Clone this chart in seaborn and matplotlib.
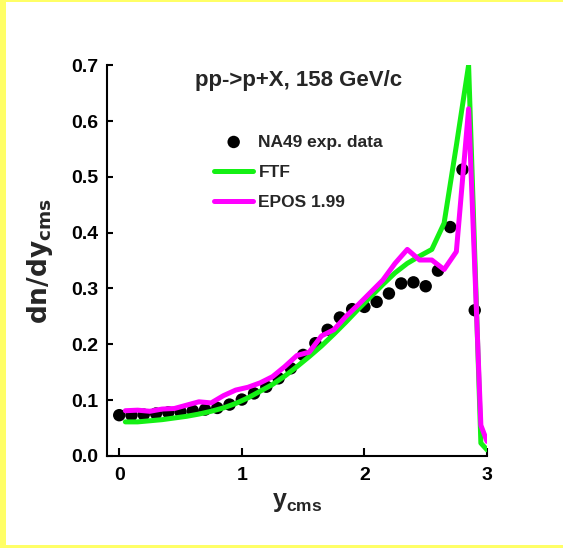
import numpy as np
import pandas as pd
import matplotlib
matplotlib.use("Agg")
import matplotlib.pyplot as plt
from matplotlib.patches import Rectangle
import seaborn as sns

# NA49 measured proton rapidity distribution
na49_y = [0.0, 0.1, 0.2, 0.3, 0.4, 0.5, 0.6, 0.7, 0.8, 0.9,
          1.0, 1.1, 1.2, 1.3, 1.4, 1.5, 1.6, 1.7, 1.8, 1.9,
          2.0, 2.1, 2.2, 2.3, 2.4, 2.5, 2.6, 2.7, 2.8, 2.9]
na49_dndy = [0.073, 0.073, 0.074, 0.076, 0.078, 0.079, 0.081, 0.083, 0.086, 0.092,
             0.101, 0.112, 0.124, 0.139, 0.157, 0.181, 0.202, 0.226, 0.248, 0.263,
             0.267, 0.276, 0.291, 0.309, 0.311, 0.304, 0.332, 0.410, 0.513, 0.261]

# model predictions (bin centres)
model_y = [0.05, 0.15, 0.25, 0.35, 0.45, 0.55, 0.65, 0.75, 0.85, 0.95,
           1.05, 1.15, 1.25, 1.35, 1.45, 1.55, 1.65, 1.75, 1.85, 1.95,
           2.05, 2.15, 2.25, 2.35, 2.45, 2.55, 2.65, 2.75, 2.85, 2.95, 3.00]
ftf_dndy = [0.061, 0.061, 0.063, 0.065, 0.068, 0.071, 0.075, 0.080, 0.086, 0.094,
            0.104, 0.116, 0.128, 0.143, 0.160, 0.178, 0.197, 0.218, 0.240, 0.263,
            0.285, 0.307, 0.328, 0.345, 0.358, 0.370, 0.417, 0.556, 0.700, 0.023, 0.011]
epos_dndy = [0.081, 0.082, 0.080, 0.084, 0.085, 0.091, 0.097, 0.095, 0.108, 0.118,
             0.123, 0.131, 0.142, 0.160, 0.180, 0.186, 0.215, 0.226, 0.250, 0.271,
             0.293, 0.315, 0.345, 0.370, 0.351, 0.351, 0.334, 0.366, 0.622, 0.055, 0.026]

x_ticks = [0, 1, 2, 3]
y_ticks = [0.0, 0.1, 0.2, 0.3, 0.4, 0.5, 0.6, 0.7]

sns.set_style("ticks")
plt.rcParams["font.family"] = ["Liberation Sans", "DejaVu Sans"]
plt.rcParams["font.weight"] = "bold"
plt.rcParams["mathtext.fontset"] = "custom"
plt.rcParams["mathtext.bf"] = "Liberation Sans:bold"
plt.rcParams["mathtext.rm"] = "Liberation Sans:bold"

fig = plt.figure(figsize=(5.63, 5.48), dpi=100)
fig.patch.set_facecolor("white")
ax = fig.add_axes([0.190, 0.168, 0.675, 0.713])

data_df = pd.DataFrame({"y": na49_y, "dndy": na49_dndy})
model_df = pd.DataFrame({"y": model_y, "FTF": ftf_dndy, "EPOS": epos_dndy})

sns.scatterplot(data=data_df, x="y", y="dndy", ax=ax, color="black", s=80,
                edgecolor="none", label="NA49 exp. data", zorder=2)
sns.lineplot(data=model_df, x="y", y="FTF", ax=ax, color="#14F014",
             linewidth=3.6, label="FTF", zorder=3)
sns.lineplot(data=model_df, x="y", y="EPOS", ax=ax, color="#FF00FF",
             linewidth=3.6, label="EPOS 1.99", zorder=4)

ax.set_xlim(-0.1, 3.0)
ax.set_ylim(0.0, 0.7)
ax.set_xticks(x_ticks)
ax.set_xticklabels([str(t) for t in x_ticks])
ax.set_yticks(y_ticks)
ax.set_yticklabels([f"{t:.1f}" for t in y_ticks])
ax.tick_params(axis="both", direction="in", width=1.5, labelsize=14, colors="black")
ax.tick_params(axis="x", length=6, pad=8)
ax.tick_params(axis="y", length=4, pad=6)
for lab in ax.get_xticklabels() + ax.get_yticklabels():
    lab.set_fontweight("bold")
sns.despine(ax=ax)
for side in ("left", "bottom"):
    ax.spines[side].set_linewidth(1.5)
    ax.spines[side].set_color("black")

ax.set_xlabel(r"$\mathbf{y_{cms}}$", fontsize=18, labelpad=4)
ax.set_ylabel(r"$\mathbf{dn/dy_{cms}}$", fontsize=19, labelpad=12,
              math_fontfamily="dejavusans")

ax.text(0.503, 0.962, "pp->p+X, 158 GeV/c", transform=ax.transAxes,
        ha="center", va="center", fontsize=16, fontweight="bold")

leg = ax.legend(loc="upper left", bbox_to_anchor=(0.282, 0.823), frameon=False,
                fontsize=12.5, handlelength=2.25, handletextpad=0.3,
                labelspacing=0.86, borderpad=0, borderaxespad=0)
for t in leg.get_texts():
    t.set_fontweight("bold")

# yellow frame around the slide
yellow = "#FFFF66"
fig.patches.append(Rectangle((0, 0), 0.011, 1, transform=fig.transFigure,
                             facecolor=yellow, edgecolor="none", zorder=0))
fig.patches.append(Rectangle((0, 0.996), 1, 0.004, transform=fig.transFigure,
                             facecolor=yellow, edgecolor="none", zorder=0))
fig.patches.append(Rectangle((0, 0), 1, 0.005, transform=fig.transFigure,
                             facecolor=yellow, edgecolor="none", zorder=0))

fig.savefig("out.png", dpi=100)
